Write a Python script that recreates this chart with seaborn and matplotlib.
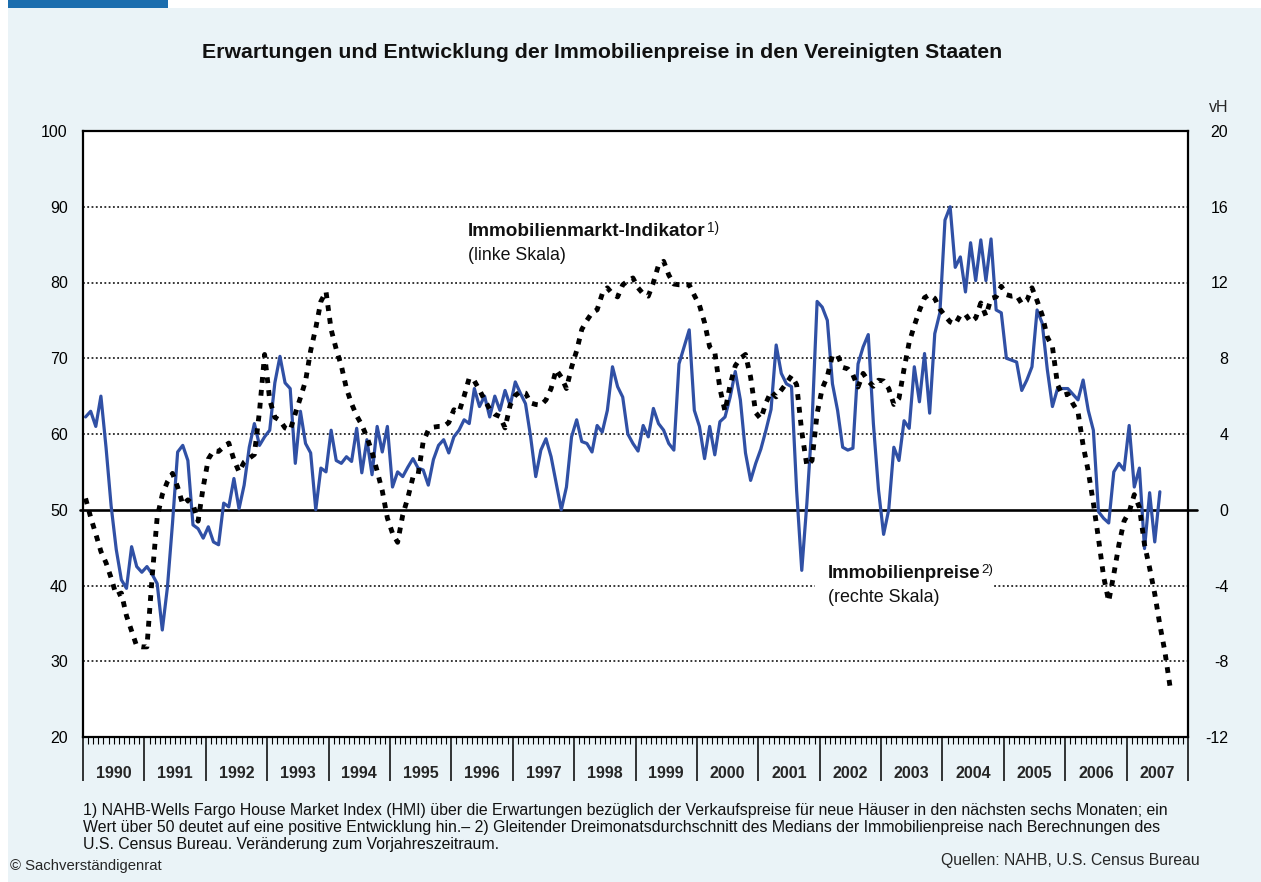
import numpy as np
import pandas as pd
import matplotlib
matplotlib.use("Agg")
import matplotlib.pyplot as plt
import matplotlib.transforms as mtransforms
from matplotlib.patches import Rectangle
from matplotlib.ticker import FixedLocator, MultipleLocator, NullFormatter
import seaborn as sns

# ---------------- texts ----------------
TITLE = "Erwartungen und Entwicklung der Immobilienpreise in den Vereinigten Staaten"
LABEL_HMI = "Immobilienmarkt-Indikator"
LABEL_HMI_SUB = "(linke Skala)"
LABEL_PRICE = "Immobilienpreise"
LABEL_PRICE_SUB = "(rechte Skala)"
FOOTNOTES = [
    "1) NAHB-Wells Fargo House Market Index (HMI) über die Erwartungen bezüglich der Verkaufspreise für neue Häuser in den nächsten sechs Monaten; ein",
    "Wert über 50 deutet auf eine positive Entwicklung hin.– 2) Gleitender Dreimonatsdurchschnitt des Medians der Immobilienpreise nach Berechnungen des",
    "U.S. Census Bureau. Veränderung zum Vorjahreszeitraum.",
]
SOURCE = "Quellen: NAHB, U.S. Census Bureau"
COPYRIGHT = "© Sachverständigenrat"
UNIT_RIGHT = "vH"

# ---------------- data ----------------
START_YEAR = 1990
YEARS = list(range(1990, 2008))
LEFT_TICKS = [20, 30, 40, 50, 60, 70, 80, 90, 100]
RIGHT_TICKS = [-12, -8, -4, 0, 4, 8, 12, 16, 20]

# Immobilienmarkt-Indikator (monthly, left scale), Jan 1990 - Sep 2007
hmi = [
    51.5, 49, 46.8, 44.5, 43, 41, 38.7, 39, 36, 34, 32, 31.9,            # 1990
    31.9, 41, 49, 52, 53.7, 54.8, 53, 50.7, 51.3, 50.7, 48.5, 53,        # 1991
    56.7, 57.8, 57.7, 58.3, 58.8, 56.6, 55, 56.3, 56.8, 57.3, 63, 70.5,  # 1992
    64.5, 62.2, 61.8, 60.8, 60.5, 62.7, 64.8, 67, 71, 74, 77.5, 78.8,    # 1993
    73.8, 71.2, 69, 66, 64, 62.4, 61.2, 59.6, 57.6, 55.1, 52.5, 48.9,    # 1994
    46.9, 45.7, 49.3, 51.6, 54.3, 54.6, 59, 60.5, 60.9, 61, 61, 61.5,    # 1995
    63.2, 62.9, 65, 67.4, 67, 65.8, 64.5, 63.3, 62.6, 62.3, 60.8, 63.8,  # 1996
    65.1, 65.6, 65.4, 64.1, 63.9, 63.8, 64.5, 66, 68.5, 67.5, 66, 68.8,  # 1997
    71, 73.8, 75, 76, 76.4, 78.5, 79.3, 78.5, 78.1, 79.7, 80.2, 80.6,    # 1998
    79.3, 78.5, 78.2, 80, 82.3, 82.8, 81, 79.8, 79.7, 79.7, 79.7, 78.3,  # 1999
    77, 74.7, 71.5, 70.8, 66, 63, 66.5, 69, 70, 70.5, 67.5, 62.8,        # 2000
    62, 64.1, 65.6, 64.9, 65.8, 66.7, 67.7, 66.5, 60.3, 55.8, 56.5, 62.7,  # 2001
    66, 67.6, 70.4, 70.4, 68.8, 68.6, 67.8, 66.2, 68, 67, 66.3, 67.1,    # 2002
    67, 66, 63.9, 64.7, 68.6, 72.1, 74.3, 76.3, 78, 78.4, 77.9, 76.5,    # 2003
    75.6, 74.8, 74.5, 75.7, 75.8, 74.8, 75.3, 77.3, 75.6, 77.9, 78.1, 79.5,  # 2004
    78.4, 78.2, 78.3, 77.2, 77.6, 79.3, 77.6, 75.7, 72.8, 71.5, 66.5, 65.1,  # 2005
    65.3, 64, 62.9, 58.5, 55.1, 50.9, 46.2, 41.2, 37.9, 41.5, 45.4, 48.5,    # 2006
    49.7, 52, 50.3, 45.4, 42.3, 38.9, 34.8, 31.2, 26.6,                      # 2007
]

# Immobilienpreise, change vs. previous year in % (monthly, right scale), Jan 1990 - Jul 2007
prices = [
    4.9, 5.2, 4.4, 6.0, 3.3, 0.2, -2.1, -3.7, -4.15, -1.95, -3.0, -3.3,     # 1990
    -3.0, -3.4, -3.9, -6.35, -4.1, -0.7, 3.05, 3.4, 2.6, -0.8, -1.0, -1.5,  # 1991
    -0.9, -1.7, -1.85, 0.35, 0.15, 1.65, 0.05, 1.3, 3.3, 4.55, 3.4, 3.85,   # 1992
    4.2, 6.7, 8.1, 6.7, 6.4, 2.45, 5.2, 3.5, 3.0, 0.0, 2.2, 2.0,            # 1993
    4.2, 2.6, 2.45, 2.8, 2.55, 4.3, 1.95, 3.7, 1.85, 4.4, 3.05, 4.4,        # 1994
    1.2, 2.0, 1.75, 2.25, 2.7, 2.2, 2.1, 1.3, 2.65, 3.4, 3.7, 3.0,          # 1995
    3.85, 4.2, 4.75, 4.55, 6.4, 5.45, 6.0, 4.9, 6.0, 5.25, 6.3, 5.5,        # 1996
    6.75, 6.15, 5.6, 3.85, 1.75, 3.15, 3.75, 2.8, 1.4, 0.0, 1.2, 3.85,      # 1997
    4.75, 3.6, 3.5, 3.05, 4.45, 4.1, 5.25, 7.55, 6.5, 5.95, 4.0, 3.5,       # 1998
    3.1, 4.45, 3.85, 5.35, 4.55, 4.2, 3.5, 3.15, 7.7, 8.6, 9.5, 5.25,       # 1999
    4.4, 2.7, 4.4, 2.9, 4.65, 4.9, 5.95, 7.3, 5.8, 3.0, 1.55, 2.45,         # 2000
    3.2, 4.2, 5.3, 8.7, 7.2, 6.65, 6.5, 1.0, -3.2, 0.35, 4.55, 11.0,        # 2001
    10.7, 10.0, 6.65, 5.25, 3.3, 3.15, 3.25, 7.7, 8.6, 9.25, 4.55, 1.05,    # 2002
    -1.3, 0.0, 3.3, 2.6, 4.7, 4.3, 7.55, 5.7, 8.25, 5.1, 9.3, 10.4,         # 2003
    15.3, 16.0, 12.8, 13.35, 11.5, 14.1, 12.1, 14.25, 12.1, 14.3, 10.55, 10.4,  # 2004
    8.0, 7.9, 7.8, 6.3, 6.85, 7.55, 10.55, 9.85, 7.4, 5.45, 6.4, 6.4,       # 2005
    6.4, 6.1, 5.8, 6.85, 5.25, 4.2, -0.1, -0.45, -0.7, 2.0, 2.45, 2.1,      # 2006
    4.45, 1.2, 2.2, -2.05, 0.9, -1.7, 0.95,                                 # 2007
]

# ---------------- style ----------------
sns.set_theme(style="white")
plt.rcParams["font.family"] = ["Liberation Sans", "DejaVu Sans"]
plt.rcParams["axes.unicode_minus"] = False

W, H = 1261, 882
BG = "#EAF3F7"
BLUE = "#3050A5"
DARKBLUE = "#1B6DAE"


def fx(x):
    return x / W


def fy(y):
    return 1 - y / H


fig = plt.figure(figsize=(W / 100, H / 100), dpi=100, facecolor="white")
fig.patches.append(Rectangle((fx(8), 0), 1 - fx(8), fy(8), transform=fig.transFigure,
                             facecolor=BG, edgecolor="none", zorder=-10))
fig.patches.append(Rectangle((fx(8), fy(8)), fx(160), 8 / H, transform=fig.transFigure,
                             facecolor=DARKBLUE, edgecolor="none", zorder=-10))

PL, PR, PT, PB = 83, 1188, 131, 737
axl = fig.add_axes([fx(PL), fy(PB), (PR - PL) / W, (PB - PT) / H])
axr = axl.twinx()
axl.set_zorder(2)
axr.set_zorder(1)
axl.patch.set_visible(False)
axr.patch.set_visible(True)
axr.patch.set_facecolor("white")

df_hmi = pd.DataFrame({"t": START_YEAR + (np.arange(len(hmi)) + 0.5) / 12, "v": hmi})
df_pr = pd.DataFrame({"t": START_YEAR + (np.arange(len(prices)) + 0.5) / 12, "v": prices})

# gridlines (right scale values, equal to 30..90 on the left scale)
for v in RIGHT_TICKS[1:-1]:
    if v == 0:
        continue
    axr.axhline(v, color="black", linewidth=1.1, linestyle=(0, (1.2, 1.6)), zorder=1)
axr.axhline(0, xmin=-0.003, xmax=1.008, color="black", linewidth=1.9, zorder=2.5, clip_on=False)

# white box behind the price label
axr.add_patch(Rectangle((fx(815), fy(608)), (992 - 815) / W, (608 - 560) / H,
                        transform=fig.transFigure, facecolor="white", edgecolor="none", zorder=1.5))

sns.lineplot(data=df_pr, x="t", y="v", ax=axr, color=BLUE, linewidth=2.3,
             estimator=None, errorbar=None, zorder=3)
sns.lineplot(data=df_hmi, x="t", y="v", ax=axl, color="black", linewidth=3.5,
             linestyle=(0, (1.2, 1.45)), dash_capstyle="butt",
             estimator=None, errorbar=None, zorder=3)

axl.set_xlim(1990, 2008)
axl.set_ylim(20, 100)
axr.set_ylim(-12, 20)
axl.set_yticks(LEFT_TICKS)
axr.set_yticks(RIGHT_TICKS)
for a in (axl, axr):
    a.set_xlabel("")
    a.set_ylabel("")

axl.tick_params(axis="y", length=0, pad=11, labelsize=11.5, labelcolor="black")
axr.tick_params(axis="y", length=0, pad=29, labelsize=11.5, labelcolor="black")
for lab in axr.get_yticklabels():
    lab.set_horizontalalignment("right")

axl.xaxis.set_major_locator(FixedLocator(YEARS + [YEARS[-1] + 1]))
axl.xaxis.set_minor_locator(MultipleLocator(1 / 12))
axl.xaxis.set_major_formatter(NullFormatter())
axl.xaxis.set_minor_formatter(NullFormatter())
axl.tick_params(axis="x", which="major", direction="out", length=32, width=1.1,
                color="black", bottom=True)
axl.tick_params(axis="x", which="minor", direction="out", length=5, width=0.8,
                color="black", bottom=True)

for s in axl.spines.values():
    s.set_visible(True)
    s.set_linewidth(1.6)
    s.set_color("black")
for s in axr.spines.values():
    s.set_visible(False)

trans = mtransforms.blended_transform_factory(axl.transData, axl.transAxes)
ylab = -(773 - PB) / (PB - PT)
for yr in YEARS:
    axl.text(yr + 0.5, ylab, str(yr), transform=trans, ha="center", va="center",
             fontsize=11.5, fontweight="bold", clip_on=False)

# ---------------- texts ----------------
title = fig.text(fx(602), fy(52), TITLE, ha="center", va="center", fontsize=13.5,
                 fontweight="bold", color="#111111")
t_hmi = fig.text(fx(468), fy(232), LABEL_HMI, ha="left", va="center", fontsize=12,
                 fontweight="bold", color="#111111", zorder=5)
t_hmi2 = fig.text(fx(468), fy(256), LABEL_HMI_SUB, ha="left", va="center", fontsize=12,
                  color="#111111", zorder=5)
t_pr = fig.text(fx(828), fy(574), LABEL_PRICE, ha="left", va="center", fontsize=12,
                fontweight="bold", color="#111111", zorder=5)
t_pr2 = fig.text(fx(828), fy(597), LABEL_PRICE_SUB, ha="left", va="center", fontsize=12,
                 color="#111111", zorder=5)
fig.text(fx(1228), fy(108), UNIT_RIGHT, ha="right", va="center", fontsize=11.5)

foot = []
for i, line in enumerate(FOOTNOTES):
    foot.append(fig.text(fx(83), fy(811 + 16.5 * i), line, ha="left", va="center",
                         fontsize=10, color="#111111"))
t_copy = fig.text(fx(10), fy(866), COPYRIGHT, ha="left", va="center", fontsize=8.5)
t_src = fig.text(fx(1200), fy(861), SOURCE, ha="right", va="center", fontsize=10)

renderer = fig.canvas.get_renderer()


def fit(t, target):
    w = t.get_window_extent(renderer).width
    t.set_fontsize(t.get_fontsize() * target / w)
    return t.get_fontsize()


fit(title, 795)
s1 = fit(t_hmi, 235)
fit(t_hmi2, 98)
s2 = fit(t_pr, 152)
fit(t_pr2, 112)
fs = fit(foot[0], 1090)
for t in foot[1:]:
    t.set_fontsize(fs)
fit(t_copy, 150)
fit(t_src, 260)


def add_sup(main, s, size):
    bb = main.get_window_extent(renderer)
    fig.text((bb.x1 + 1) / W, (bb.y1 + 2) / H, s, ha="left", va="top",
             fontsize=size, color="#111111", zorder=5)


add_sup(t_hmi, "1)", s1 * 0.72)
add_sup(t_pr, "2)", s2 * 0.72)

fig.savefig("out.png", dpi=100, facecolor=fig.get_facecolor())
